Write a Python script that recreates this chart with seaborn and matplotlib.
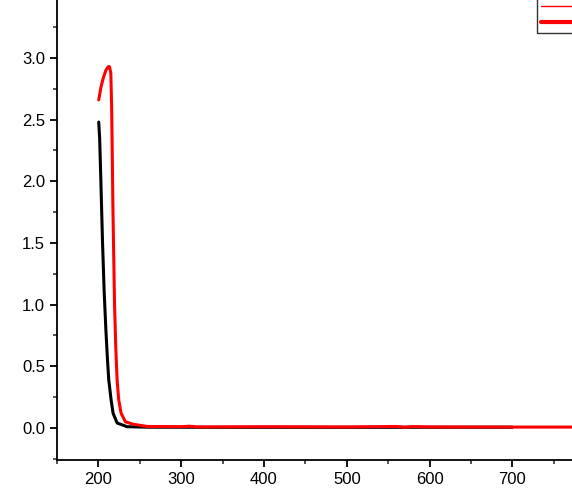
import numpy as np
import pandas as pd
import matplotlib
matplotlib.use("Agg")
import matplotlib.pyplot as plt
from matplotlib.lines import Line2D
from matplotlib.ticker import MultipleLocator, FormatStrFormatter
import seaborn as sns

# ---- data ----
black_x = [200.4, 201.5, 203, 205, 207, 209, 211, 212.5, 215.3, 217.7, 222.6,
           234.7, 260, 350, 450, 550, 650, 700]
black_y = [2.48, 2.35, 2.0, 1.5, 1.1, 0.8, 0.55, 0.39, 0.23, 0.12, 0.04,
           0.01, 0.006, 0.005, 0.005, 0.005, 0.006, 0.006]

red_x = [200.4, 203, 206, 209, 212, 213.3, 215, 216, 216.8, 217.5, 218.5, 219.5,
         221, 222.6, 224.5, 227.4, 232.6, 242, 259, 300, 310, 320, 400, 500,
         560, 570, 580, 600, 700, 800]
red_y = [2.66, 2.76, 2.84, 2.9, 2.93, 2.93, 2.88, 2.6, 2.2, 1.8, 1.4, 1.0,
         0.65, 0.39, 0.23, 0.12, 0.05, 0.03, 0.012, 0.01, 0.014, 0.008, 0.01, 0.008,
         0.012, 0.006, 0.011, 0.008, 0.007, 0.007]

df = pd.concat([
    pd.DataFrame({"x": black_x, "y": black_y, "s": "A"}),
    pd.DataFrame({"x": red_x, "y": red_y, "s": "B"}),
])

sns.set_style("white")
plt.rcParams["font.family"] = ["Liberation Sans", "DejaVu Sans"]

fig = plt.figure(figsize=(5.72, 4.92), dpi=100)
ax = fig.add_axes([57 / 572, 32 / 492, 1 - 57 / 572, 1 - 32 / 492])

sns.lineplot(data=df, x="x", y="y", hue="s", palette={"A": "black", "B": "red"},
             linewidth=2.2, sort=False, estimator=None, legend=False, ax=ax)

ax.set_xlim(150, 772)
ax.set_ylim(-0.26, 3.47)
ax.xaxis.set_major_locator(MultipleLocator(100))
ax.xaxis.set_minor_locator(MultipleLocator(50))
ax.yaxis.set_major_locator(MultipleLocator(0.5))
ax.yaxis.set_minor_locator(MultipleLocator(0.25))
ax.yaxis.set_major_formatter(FormatStrFormatter("%.1f"))
ax.set_xlabel("")
ax.set_ylabel("")

for side in ["top", "right"]:
    ax.spines[side].set_visible(False)
for side in ["left", "bottom"]:
    ax.spines[side].set_linewidth(1.3)
    ax.spines[side].set_color("black")

ax.tick_params(which="major", direction="out", length=5, width=1.3,
               labelsize=12, colors="black", left=True, bottom=True)
ax.tick_params(which="minor", direction="out", length=3, width=1.1,
               left=True, bottom=True)

# legend box, mostly cut off at the top right (its labels lie off the picture)
handles = [Line2D([], [], color="red", lw=1.0),
           Line2D([], [], color="red", lw=3.0)]
leg = fig.legend(handles, ["", ""], loc="lower left",
                 bbox_to_anchor=(537 / 572, 1 - 33 / 492),
                 frameon=True, fancybox=False, fontsize=9,
                 handlelength=4, borderpad=0.3, borderaxespad=0,
                 labelspacing=0.3, handletextpad=0.2)
leg.get_frame().set_edgecolor("black")
leg.get_frame().set_linewidth(1.0)

fig.savefig("out.png", dpi=100)
